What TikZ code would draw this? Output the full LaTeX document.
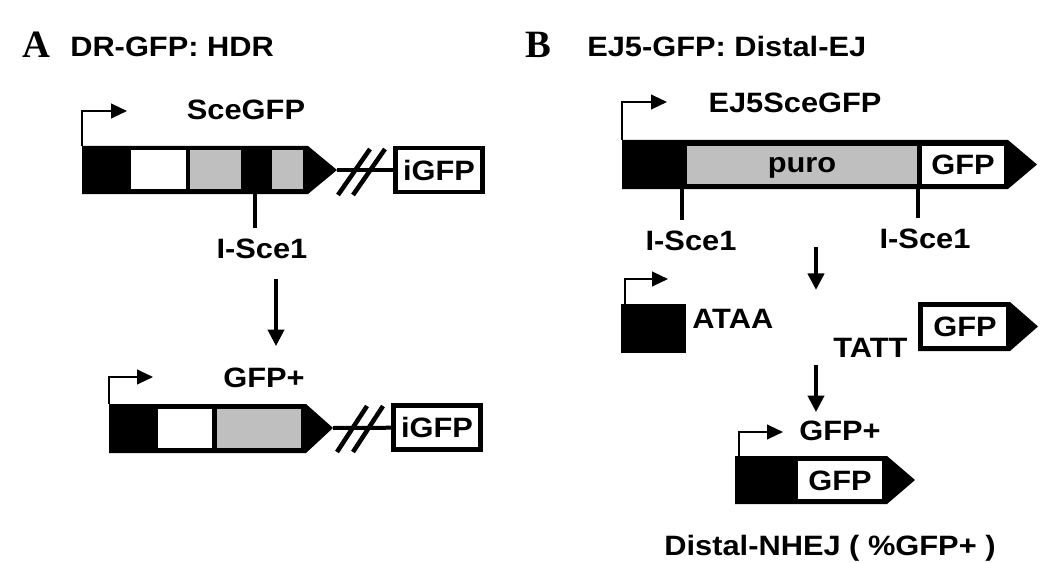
\documentclass[tikz,border=0pt]{standalone}
\usepackage{fontspec}
\setmainfont{Liberation Sans}[FakeStretch=1.1]
\newfontfamily\panelfont{Liberation Serif}
\usetikzlibrary{arrows.meta}

\tikzset{
  lbl/.style={font=\fontsize{21}{24}\selectfont\bfseries, inner sep=0pt},
  title/.style={lbl, anchor=base west},
  panel/.style={font=\panelfont\fontsize{29}{30}\selectfont\bfseries, inner sep=0pt, anchor=base west},
  prom/.style={line width=1.6pt, -{Triangle[length=12pt,width=11pt]}},
  down/.style={line width=3.4pt, -{Triangle[length=12.5pt,width=12pt]}},
  cut/.style={line width=3.4pt},
  link/.style={line width=3pt},
  slash/.style={line width=3.4pt},
  grey/.style={fill=gray!50},
  hole/.style={fill=white},
  gbox/.style={lbl, draw, line width=3.4pt, fill=white, minimum width=65.5pt, minimum height=33pt}
}

\begin{document}
\begin{tikzpicture}[x=0.75pt,y=-0.75pt]
\useasboundingbox (0,0) rectangle (1045,563);

% Panel A: DR-GFP
\node[panel] (labA) at (22,58) {A};
\node[title] (titA) at (70,57) {DR-GFP: HDR};

% SceGFP construct
\fill (82,146) -- (308,146) -- (337,170) -- (308,194) -- (82,194) -- cycle;
\fill[hole] (131,150) rectangle (186,189);
\fill[grey] (190,150) rectangle (241,189);
\fill[grey] (272,150) rectangle (303,189);
\draw[prom] (82,146) -- (82,111) -- (127,111);
\node[lbl, anchor=base] (sceA) at (246,120) {SceGFP};
\coordinate (tipA) at (337,170);
\node[gbox] (igfpA) at (439,170) {iGFP};
\draw[link] (tipA) -- (igfpA);
\draw[slash] (338,195) -- (370,149);
\draw[slash] (353,195) -- (385,149);
\draw[cut] (255,194) -- (255,228);
\node[lbl, anchor=base] (iscA) at (262,258) {I-Sce1};

% repaired product
\fill (109,404) -- (306,404) -- (333,428) -- (306,453) -- (109,453) -- cycle;
\fill[hole] (158,409) rectangle (212,448);
\fill[grey] (217,409) rectangle (301,448);
\draw[prom] (109,404) -- (109,377) -- (153,377);
\node[lbl, anchor=base] (gfpA) at (264,387) {GFP+};
\coordinate (tipA2) at (333,428);
\node[gbox] (igfpA2) at (437,427.5) {iGFP};
\draw[link] (tipA2) -- (igfpA2);
\draw[slash] (337,452) -- (367,406);
\draw[slash] (353,452) -- (383,406);

\draw[down] ([shift={(14,20)}]iscA.south) -- ([shift={(12,-21)}]gfpA.north);

% Panel B: EJ5-GFP
\node[panel] (labB) at (525,58) {B};
\node[title] (titB) at (587,57) {EJ5-GFP: Distal-EJ};

% EJ5SceGFP construct
\fill (622,140) -- (1008,140) -- (1037,164.5) -- (1008,189) -- (622,189) -- cycle;
\fill[grey] (687,146) rectangle (917,184);
\fill[hole] (922,146) rectangle (1004,184);
\draw[prom] (622,140) -- (622,102) -- (667,102);
\node[lbl, anchor=base] (ej5) at (795,113) {EJ5SceGFP};
\node[lbl, anchor=base] (puro) at (802,172) {puro};
\node[lbl, anchor=base] (gfpB) at (963,175) {GFP};
\draw[cut] (682,189) -- (682,220);
\draw[cut] (918,189) -- (918,218);
\node[lbl, anchor=base] (iscB1) at (691,250) {I-Sce1};
\node[lbl, anchor=base] (iscB2) at (925,248) {I-Sce1};
\coordinate (cutB) at (816,247);
\coordinate (endB) at (816,290);
\draw[down] (cutB) -- (endB);

% broken ends
\fill (621,304) rectangle (686,353);
\draw[prom] (625,304) -- (625,279) -- (668,279);
\node[lbl, anchor=base west] (ataa) at (692,328) {ATAA};
\node[lbl, anchor=base west] (tatt) at (833,357) {TATT};
\fill (918,302) -- (1010,302) -- (1038,326.5) -- (1010,351) -- (918,351) -- cycle;
\fill[hole] (923,307) rectangle (1006,346);
\node[lbl] (gfpB2) at (965,327) {GFP};

% joined product
\node[lbl, anchor=base] (gfpB3) at (840,440) {GFP+};
\coordinate (joinB) at (816,365);
\draw[down] (joinB) -- ([shift={(-24,-8)}]gfpB3.north);
\fill (735,456) -- (887,456) -- (915,480) -- (887,504) -- (735,504) -- cycle;
\fill[hole] (798,461) rectangle (882,499);
\draw[prom] (739,456) -- (739,432) -- (783,432);
\node[lbl] (gfpB4) at (840,481) {GFP};
\node[lbl, anchor=base] (nhej) at (830,555) {Distal-NHEJ ( \%GFP+ )};

\end{tikzpicture}
\end{document}
